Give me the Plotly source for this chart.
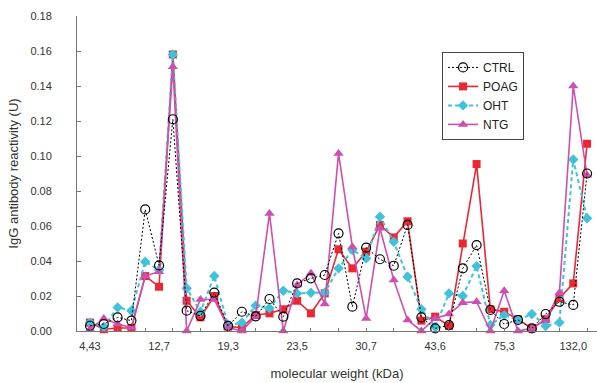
import plotly.graph_objects as go

# category positions (37 bands), labelled every 5th band
positions = list(range(37))
label_positions = [0, 5, 10, 15, 20, 25, 30, 35]
tick_labels = ["4,43", "12,7", "19,3", "23,5", "30,7", "43,6", "75,3", "132,0"]
minor_tick_positions = list(range(0, 37, 2))

ctrl = [0.003, 0.004, 0.0078, 0.0059, 0.0695, 0.0375, 0.121, 0.0116, 0.0086, 0.0219,
        0.0029, 0.011, 0.0084, 0.0183, 0.0082, 0.0272, 0.0301, 0.032, 0.0558, 0.0139,
        0.0476, 0.041, 0.0373, 0.0606, 0.0078, 0.0015, 0.0034, 0.0358, 0.0491, 0.012,
        0.004, 0.0063, 0.0015, 0.0097, 0.0167, 0.0149, 0.090]
poag = [0.0048, 0.001, 0.0017, 0.0017, 0.0314, 0.0253, 0.158, 0.0173, 0.0078, 0.020,
        0.0025, 0.002, 0.0091, 0.0101, 0.0124, 0.0173, 0.0101, 0.0215, 0.0467, 0.0358,
        0.0453, 0.0606, 0.0535, 0.0627, 0.0059, 0.0082, 0.0029, 0.050, 0.0954, 0.0124,
        0.011, 0.0067, 0.0015, 0.0067, 0.0187, 0.0272, 0.107]
oht = [0.0048, 0.0023, 0.0135, 0.0116, 0.0396, 0.0349, 0.158, 0.0244, 0.011, 0.0314,
       0.0034, 0.0047, 0.0145, 0.013, 0.023, 0.0215, 0.0219, 0.0219, 0.0358, 0.0463,
       0.0415, 0.0653, 0.051, 0.031, 0.0125, 0.0023, 0.0215, 0.020, 0.0371, 0.0034,
       0.0091, 0.0063, 0.0097, 0.0029, 0.0048, 0.098, 0.0644]
ntg = [0.001, 0.0072, 0.004, 0.002, 0.0314, 0.0339, 0.151, 0.0, 0.018, 0.018,
       0.002, 0.0, 0.0084, 0.0672, 0.0, 0.0263, 0.033, 0.0154, 0.1015, 0.0482,
       0.0072, 0.0587, 0.0291, 0.0063, 0.0, 0.0072, 0.0097, 0.0162, 0.0167, 0.0,
       0.023, 0.0, 0.0015, 0.0063, 0.0219, 0.140, 0.089]

RED = "#ec2733"
CYAN = "#3fc2da"
MAG = "#cf4fae"

fig = go.Figure()
fig.add_trace(go.Scatter(x=positions, y=poag, name="POAG", mode="lines+markers",
                         line=dict(color=RED, width=1.6),
                         marker=dict(symbol="square", size=8, color=RED),
                         cliponaxis=False))
fig.add_trace(go.Scatter(x=positions, y=oht, name="OHT", mode="lines+markers",
                         line=dict(color=CYAN, width=2, dash="4px,3px"),
                         marker=dict(symbol="diamond", size=8, color=CYAN),
                         cliponaxis=False))
fig.add_trace(go.Scatter(x=positions, y=ntg, name="NTG", mode="lines+markers",
                         line=dict(color=MAG, width=1.6),
                         marker=dict(symbol="triangle-up", size=9, color=MAG),
                         cliponaxis=False))
fig.add_trace(go.Scatter(x=positions, y=ctrl, name="CTRL", mode="lines+markers",
                         line=dict(color="black", width=1, dash="2px,2px"),
                         marker=dict(symbol="circle-open", size=9, color="black",
                                     line=dict(width=1.2, color="black")),
                         cliponaxis=False))
# invisible helper trace for the tick-mark axis
fig.add_trace(go.Scatter(x=positions, y=ctrl, xaxis="x2", mode="lines",
                         line=dict(width=0), opacity=0, showlegend=False,
                         hoverinfo="skip"))

font = "Liberation Sans, Arial, sans-serif"
xr = [-0.942, 36.72]
fig.update_layout(
    width=597, height=383,
    margin=dict(l=77, r=0, t=16, b=52, autoexpand=False),
    paper_bgcolor="white", plot_bgcolor="white",
    font=dict(family=font, size=11, color="#333"),
    showlegend=True,
    legend=dict(x=0.702, y=0.886, xanchor="left", yanchor="top",
                bordercolor="#444", borderwidth=1, bgcolor="white",
                font=dict(size=12, color="#222"),
                traceorder="normal", itemwidth=30,
                ),
    xaxis=dict(range=xr, tickmode="array", tickvals=label_positions,
               ticktext=tick_labels, ticks="", showline=True, linecolor="#777",
               linewidth=1, showgrid=False, zeroline=False,
               tickfont=dict(size=11, color="#333"), ticklabelstandoff=5,
               title=dict(text="molecular weight (kDa)", font=dict(size=13, color="#333"),
                          standoff=17)),
    xaxis2=dict(range=xr, overlaying="x", anchor="y", side="bottom",
                tickmode="array", tickvals=minor_tick_positions, ticks="inside",
                ticklen=3, tickcolor="#777", showticklabels=False, showgrid=False,
                zeroline=False, showline=False),
    yaxis=dict(range=[0, 0.18], dtick=0.02, tickformat=".2f", ticks="inside",
               ticklen=4, tickcolor="#777", showline=True, linecolor="#777",
               linewidth=1, showgrid=False, zeroline=False,
               tickfont=dict(size=11, color="#333"), ticklabelstandoff=22,
               title=dict(text="IgG antibody reactivity (U)",
                          font=dict(size=13, color="#333"), standoff=8)),
)

# legend order: CTRL, POAG, OHT, NTG
for tr, rank in zip(fig.data[:4], [2, 3, 4, 1]):
    tr.legendrank = rank

fig.write_html("out.html", config={"displayModeBar": False},
               post_script="document.body.style.margin='0';")
